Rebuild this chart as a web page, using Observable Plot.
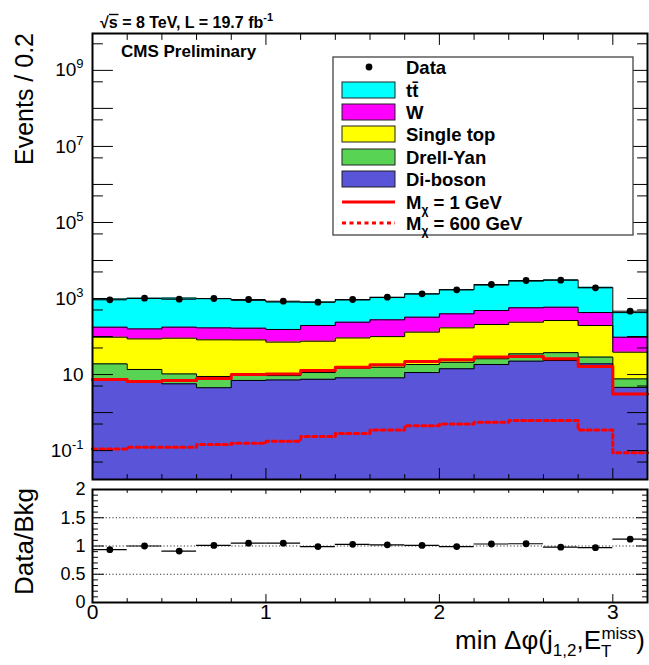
<!DOCTYPE html>
<html><head><meta charset="utf-8">
<script src="https://cdn.jsdelivr.net/npm/d3@7"></script>
<script src="https://cdn.jsdelivr.net/npm/@observablehq/plot@0.6"></script>
<style>
body{margin:0;background:#fff;}
#chart{position:relative;width:649px;height:665px;font-family:"Liberation Sans",Arial,sans-serif;}
#chart svg{position:absolute;left:0;}
</style></head><body><div id="chart"></div>
<script>
// ---- data ----
const binEdges = [0,0.2,0.4,0.6,0.8,1.0,1.2,1.4,1.6,1.8,2.0,2.2,2.4,2.6,2.8,3.0,3.2];
const diboson   = [7.0, 6.3, 5.7, 4.5, 7.0, 7.2, 7.5, 8.2, 8.2, 11.3, 14.2, 18.4, 22.5, 23.4, 19.1, 4.6];
const drellYan  = [12.1, 7.3, 4.7, 4.4, 2.5, 2.2, 3.8, 6.5, 7.4, 7.1, 6.8, 7.6, 12.5, 14.3, 9.7, 3.1];
const singleTop = [77, 73, 80, 73, 72, 62, 64, 77, 84, 112, 148, 181, 203, 226, 166, 31];
const wjets     = [80, 72, 86, 87, 84, 82, 120, 146, 175, 192, 226, 276, 332, 326, 233, 57];
const ttbar     = [800, 850, 855, 820, 730, 655, 613, 676, 785, 993, 1312, 1773, 2292, 2502, 1541, 330];
const dataCounts = [924, 1018, 958, 1000, 941, 849, 800, 941, 1082, 1328, 1690, 2335, 2976, 3030, 1910, 464];
const ratioValues = [0.935, 1.0, 0.91, 1.01, 1.05, 1.05, 0.99, 1.03, 1.02, 1.01, 0.99, 1.035, 1.04, 0.98, 0.97, 1.12];
const sigM1   = [7.4, 6.6, 7.0, 7.9, 10, 10.4, 12.7, 15.6, 18.1, 22, 24.5, 28.8, 30, 26, 16.2, 3.1];
const sigM600 = [0.111, 0.122, 0.122, 0.144, 0.155, 0.177, 0.234, 0.283, 0.35, 0.45, 0.5, 0.56, 0.62, 0.62, 0.35, 0.088];

const legendLabels = ["Data", "tt\u0304", "W", "Single top", "Drell-Yan", "Di-boson", "M_\u03c7 = 1 GeV", "M_\u03c7 = 600 GeV"];
const colTT = "#00ffff", colW = "#ff00ff", colST = "#ffff00", colDY = "#59d354", colVV = "#5954d8", colSig = "#ff0000";

const logLabelTicks = [0.1, 10, 1e3, 1e5, 1e7, 1e9];
const logLabels = ["10^-1", "10", "10^3", "10^5", "10^7", "10^9"];
const logMajorTicks = [0.1, 1, 10, 100, 1e3, 1e4, 1e5, 1e6, 1e7, 1e8, 1e9];
const logMinorTicks = [0.05, 0.5, 5, 50, 500, 5e3, 5e4, 5e5, 5e6, 5e7, 5e8, 5e9];
const xMajorTicks = [0, 1, 2, 3];
const xMinorTicks = [0.2, 0.4, 0.6, 0.8, 1.2, 1.4, 1.6, 1.8, 2.2, 2.4, 2.6, 2.8, 3.2];
const ratioMajorTicks = [0, 0.5, 1, 1.5, 2];
const ratioMinorTicks = [0.1,0.2,0.3,0.4,0.6,0.7,0.8,0.9,1.1,1.2,1.3,1.4,1.6,1.7,1.8,1.9];
const ratioGrid = [0.5, 1, 1.5];

const Y_MIN = Math.pow(10, -1.76), Y_MAX = Math.pow(10, 9.97);

// ---- derived tables ----
const nb = dataCounts.length;
const bins = dataCounts.map((d, i) => ({lo: binEdges[i], hi: binEdges[i+1], mid: (binEdges[i]+binEdges[i+1])/2, data: d, ratio: ratioValues[i]}));
function cumsum(...arrs){ return arrs[0].map((_, i) => arrs.reduce((s, a) => s + a[i], 0)); }
const cumVV = diboson.slice();
const cumDY = cumsum(diboson, drellYan);
const cumST = cumsum(diboson, drellYan, singleTop);
const cumW  = cumsum(diboson, drellYan, singleTop, wjets);
const cumTT = cumsum(diboson, drellYan, singleTop, wjets, ttbar);
const stepPts = vals => binEdges.map((e, i) => ({x: e, y: vals[Math.min(i, nb-1)]}));
const layers = [
  {cum: cumTT, color: colTT}, {cum: cumW, color: colW}, {cum: cumST, color: colST},
  {cum: cumDY, color: colDY}, {cum: cumVV, color: colVV}
];

const tickShape = {draw(ctx, l){ ctx.moveTo(0,0); ctx.lineTo(0,-l); }};
function yTicks(vals, len){ return [
  Plot.vector(vals, {y: d => d, frameAnchor: "left", length: len, rotate: 90, anchor: "start", shape: tickShape, stroke: "black", strokeWidth: 1}),
  Plot.vector(vals, {y: d => d, frameAnchor: "right", length: len, rotate: -90, anchor: "start", shape: tickShape, stroke: "black", strokeWidth: 1})
];}
function xTicks(vals, lenB, lenT){ return [
  Plot.vector(vals, {x: d => d, frameAnchor: "bottom", length: lenB, rotate: 0, anchor: "start", shape: tickShape, stroke: "black", strokeWidth: 1}),
  Plot.vector(vals, {x: d => d, frameAnchor: "top", length: lenT, rotate: 180, anchor: "start", shape: tickShape, stroke: "black", strokeWidth: 1})
];}

const baseStyle = {fontFamily: '"Liberation Sans", Arial, sans-serif', background: "transparent", overflow: "visible", color: "black"};

const topPlot = Plot.plot({
  width: 649, height: 480, marginLeft: 92, marginRight: 2, marginTop: 33, marginBottom: 1,
  style: baseStyle,
  x: {domain: [0, 3.2], axis: null},
  y: {type: "log", domain: [Y_MIN, Y_MAX], axis: null},
  marks: [
    ...layers.map(L => Plot.areaY(stepPts(L.cum), {x: "x", y1: Y_MIN, y2: "y", curve: "step-after", fill: L.color})),
    ...layers.map(L => Plot.line(stepPts(L.cum), {x: "x", y: "y", curve: "step-after", stroke: "black", strokeWidth: 1})),
    Plot.line(stepPts(sigM1), {x: "x", y: "y", curve: "step-after", stroke: colSig, strokeWidth: 3}),
    Plot.line(stepPts(sigM600), {x: "x", y: "y", curve: "step-after", stroke: colSig, strokeWidth: 3, strokeDasharray: "4,3.5"}),
    Plot.ruleY(bins, {y: "data", x1: "lo", x2: "hi", stroke: "black", strokeWidth: 1}),
    Plot.dot(bins, {x: "mid", y: "data", r: 3.4, fill: "black", stroke: null}),
    ...yTicks(logMajorTicks, 20),
    ...yTicks(logMinorTicks, 10),
    ...xTicks(xMajorTicks, 11, 11),
    ...xTicks(xMinorTicks, 5, 6),
    Plot.frame({stroke: "black", strokeWidth: 2}),
    Plot.axisY({ticks: logLabelTicks, tickSize: 0, tickPadding: 9, fontSize: 19, label: null,
      tickFormat: d => logLabels[logLabelTicks.indexOf(d)]})
  ]
});
topPlot.style.top = "0px";

const botPlot = Plot.plot({
  width: 649, height: 185, marginLeft: 92, marginRight: 2, marginTop: 9, marginBottom: 63,
  style: baseStyle,
  x: {domain: [0, 3.2], axis: null},
  y: {domain: [0, 2], axis: null},
  marks: [
    Plot.ruleY(ratioGrid, {stroke: "#333", strokeDasharray: "1.2,2.2", strokeWidth: 1}),
    Plot.ruleY(bins, {y: "ratio", x1: "lo", x2: "hi", stroke: "black", strokeWidth: 1.2}),
    Plot.dot(bins, {x: "mid", y: "ratio", r: 3.4, fill: "black", stroke: null}),
    ...yTicks(ratioMajorTicks, 11),
    ...yTicks(ratioMinorTicks, 5),
    ...xTicks(xMajorTicks, 8, 4),
    ...xTicks(xMinorTicks, 4, 3),
    Plot.frame({stroke: "black", strokeWidth: 2}),
    Plot.axisY({ticks: ratioMajorTicks, tickSize: 0, tickPadding: 7, fontSize: 18, label: null, tickFormat: d => String(d)}),
    Plot.axisX({ticks: xMajorTicks, tickSize: 0, tickPadding: 2, fontSize: 21, label: null, tickFormat: d => String(d)})
  ]
});
botPlot.style.top = "480px";

const chart = document.getElementById("chart");
chart.appendChild(topPlot);
chart.appendChild(botPlot);

// superscripts in log tick labels
topPlot.querySelectorAll("text").forEach(t => {
  const m = t.textContent.match(/^10\^(.+)$/);
  if (m) {
    t.textContent = "10";
    const ts = document.createElementNS("http://www.w3.org/2000/svg", "tspan");
    ts.setAttribute("dy", "-8");
    ts.setAttribute("font-size", "13");
    ts.textContent = m[1];
    t.appendChild(ts);
  }
});

// ---- overlay: titles, axis titles, legend ----
const ov = d3.select(chart).append("svg").attr("width", 649).attr("height", 665)
  .style("top", "0px").style("pointer-events", "none")
  .attr("font-family", '"Liberation Sans", Arial, sans-serif');

// energy/lumi title
const tt = ov.append("text").attr("x", 100).attr("y", 28).attr("font-size", 16).attr("font-weight", "bold");
tt.append("tspan").text("\u221As = 8 TeV, L = 19.7 fb");
tt.append("tspan").attr("dy", -7).attr("font-size", 11).text("-1");
ov.append("line").attr("x1", 109).attr("x2", 118.5).attr("y1", 14.5).attr("y2", 14.5).attr("stroke", "black").attr("stroke-width", 1.4);

ov.append("text").attr("x", 121).attr("y", 57).attr("font-size", 17).attr("font-weight", "bold").text("CMS Preliminary");

// y titles
ov.append("text").attr("transform", "translate(33,33) rotate(-90)").attr("text-anchor", "end")
  .attr("font-size", 25).text("Events / 0.2");
ov.append("text").attr("transform", "translate(33,488) rotate(-90)").attr("text-anchor", "end")
  .attr("font-size", 26).text("Data/Bkg");

// x title
const xt = ov.append("text").attr("x", 645).attr("y", 649).attr("text-anchor", "end").attr("font-size", 26);
xt.append("tspan").text("min \u0394\u03c6(j");
xt.append("tspan").attr("dy", 7).attr("font-size", 17).text("1,2");
xt.append("tspan").attr("dy", -7).text(",E");
xt.append("tspan").attr("dy", 8).attr("font-size", 17).text("T");
xt.append("tspan").attr("dx", -10).attr("dy", -18).attr("font-size", 17).text("miss");
xt.append("tspan").attr("dy", 10).text(")");

// legend
ov.append("rect").attr("x", 333).attr("y", 57).attr("width", 300).attr("height", 178)
  .attr("fill", "white").attr("stroke", "#444").attr("stroke-width", 1.3);
const legY = [67, 90, 112, 134, 157, 179, 202, 223];
const legKinds = ["dot", "box", "box", "box", "box", "box", "line", "dash"];
const legColors = [null, colTT, colW, colST, colDY, colVV, colSig, colSig];
legendLabels.forEach((lab, i) => {
  const y = legY[i];
  const k = legKinds[i];
  if (k === "dot") ov.append("circle").attr("cx", 369).attr("cy", y).attr("r", 3.4).attr("fill", "black");
  if (k === "box") ov.append("rect").attr("x", 342).attr("y", y - 8).attr("width", 53).attr("height", 16)
    .attr("fill", legColors[i]).attr("stroke", "#222").attr("stroke-width", 1);
  if (k === "line" || k === "dash") ov.append("line").attr("x1", 342).attr("x2", 395).attr("y1", y).attr("y2", y)
    .attr("stroke", legColors[i]).attr("stroke-width", 3).attr("stroke-dasharray", k === "dash" ? "4,3.5" : null);
  const t = ov.append("text").attr("x", 406).attr("y", y + 6.5).attr("font-size", 18.5).attr("font-weight", "bold");
  if (lab.startsWith("M_")) {
    const rest = lab.slice(3);
    t.append("tspan").text("M");
    t.append("tspan").attr("dy", 5).attr("font-size", 12).text(lab[2]);
    t.append("tspan").attr("dy", -5).text(rest);
  } else {
    t.text(lab);
  }
});
</script></body></html>
